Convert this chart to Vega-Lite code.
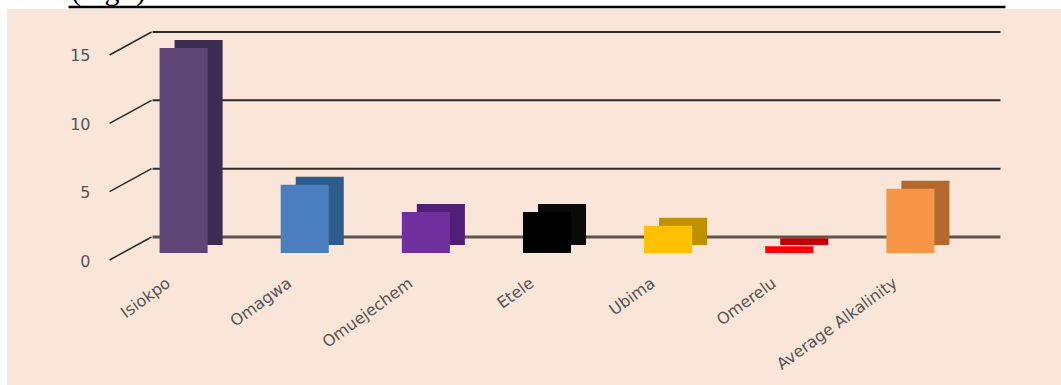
{
  "$schema": "https://vega.github.io/schema/vega-lite/v6.json",
  "width": 1054,
  "height": 376,
  "autosize": {"type": "none"},
  "padding": {"left": 7, "top": 9, "right": 0, "bottom": 0},
  "background": "white",
  "config": {"view": {"fill": "#FAE6D9", "stroke": null}},
  "datasets": {
    "bars": [
      {"site": "Isiokpo", "value": 15.0},
      {"site": "Omagwa", "value": 5.0},
      {"site": "Omuejechem", "value": 3.0},
      {"site": "Etele", "value": 3.0},
      {"site": "Ubima", "value": 2.0},
      {"site": "Omerelu", "value": 0.5},
      {"site": "Average Alkalinity", "value": 4.7}
    ],
    "ticks": [{"v": 0}, {"v": 5}, {"v": 10}, {"v": 15}]
  },
  "resolve": {"scale": {"color": "independent"}},
  "layer": [
    {
      "data": {"name": "ticks"},
      "mark": {"type": "rule", "xOffset": -7, "x2Offset": 66, "yOffset": -16},
      "encoding": {
        "x": {"datum": "Isiokpo", "type": "nominal", "bandPosition": 0},
        "x2": {"datum": "Average Alkalinity", "bandPosition": 1},
        "y": {"field": "v", "type": "quantitative"},
        "color": {"condition": {"test": "datum.v == 0", "value": "#5E554D"}, "value": "#2B2B2B"},
        "strokeWidth": {"condition": {"test": "datum.v == 0", "value": 3}, "value": 2}
      }
    },
    {
      "data": {"name": "ticks"},
      "mark": {"type": "rule", "xOffset": -50, "x2Offset": -8, "yOffset": 7, "y2Offset": -16, "color": "#2B2B2B", "strokeWidth": 1.5},
      "encoding": {
        "x": {"datum": "Isiokpo", "type": "nominal", "bandPosition": 0},
        "x2": {"datum": "Isiokpo", "bandPosition": 0},
        "y": {"field": "v", "type": "quantitative"},
        "y2": {"field": "v"}
      }
    },
    {
      "data": {"name": "bars"},
      "mark": {"type": "bar", "xOffset": 15, "yOffset": -8, "y2Offset": -8},
      "encoding": {
        "x": {
          "field": "site", "type": "nominal",
          "scale": {
            "domain": ["Isiokpo", "Omagwa", "Omuejechem", "Etele", "Ubima", "Omerelu", "Average Alkalinity"],
            "range": [92, 988], "paddingInner": 0.6033, "paddingOuter": 0.5, "align": 0.5
          },
          "axis": {
            "title": null, "orient": "bottom", "offset": -105, "domain": false, "ticks": false, "grid": false,
            "labelAngle": -36, "labelAlign": "right", "labelBaseline": "middle", "labelPadding": 1, "labelOffset": -15,
            "labelFont": "DejaVu Sans", "labelFontSize": 16, "labelColor": "#555555", "labelLimit": 400, "labelOverlap": false
          }
        },
        "y": {
          "field": "value", "type": "quantitative",
          "scale": {"domain": [-9.658, 17.853], "nice": false, "zero": false},
          "axis": {
            "title": null, "values": [0, 5, 10, 15], "offset": -85, "domain": false, "ticks": false, "grid": false,
            "labelPadding": 2, "labelOffset": 8, "labelFont": "DejaVu Sans", "labelFontSize": 16, "labelColor": "#555555"
          }
        },
        "y2": {"datum": 0},
        "color": {
          "field": "site", "type": "nominal", "legend": null,
          "scale": {
            "domain": ["Isiokpo", "Omagwa", "Omuejechem", "Etele", "Ubima", "Omerelu", "Average Alkalinity"],
            "range": ["#3D2C52", "#2E5C8E", "#4F2076", "#0A0A0A", "#BF9000", "#C00000", "#B5682E"]
          }
        }
      }
    },
    {
      "data": {"name": "bars"},
      "mark": {"type": "bar"},
      "encoding": {
        "x": {"field": "site", "type": "nominal"},
        "y": {"field": "value", "type": "quantitative"},
        "y2": {"datum": 0},
        "color": {
          "field": "site", "type": "nominal", "legend": null,
          "scale": {
            "domain": ["Isiokpo", "Omagwa", "Omuejechem", "Etele", "Ubima", "Omerelu", "Average Alkalinity"],
            "range": ["#5E4676", "#4A7EBF", "#7030A0", "#000000", "#FFC000", "#FF0000", "#F79646"]
          }
        }
      }
    },
    {
      "data": {"values": [{}]},
      "mark": {"type": "rule", "xOffset": -91, "x2Offset": 71, "color": "#000000", "strokeWidth": 2.5},
      "encoding": {
        "x": {"datum": "Isiokpo", "type": "nominal", "bandPosition": 0},
        "x2": {"datum": "Average Alkalinity", "bandPosition": 1},
        "y": {"datum": 18.0}
      }
    },
    {
      "data": {"values": [{"label": "(mg/l)"}]},
      "mark": {"type": "text", "xOffset": -51, "align": "center", "baseline": "alphabetic", "font": "Liberation Serif", "fontSize": 30, "color": "#000000"},
      "encoding": {
        "x": {"datum": "Isiokpo", "type": "nominal", "bandPosition": 0},
        "y": {"datum": 18.5},
        "text": {"field": "label"}
      }
    }
  ]
}
